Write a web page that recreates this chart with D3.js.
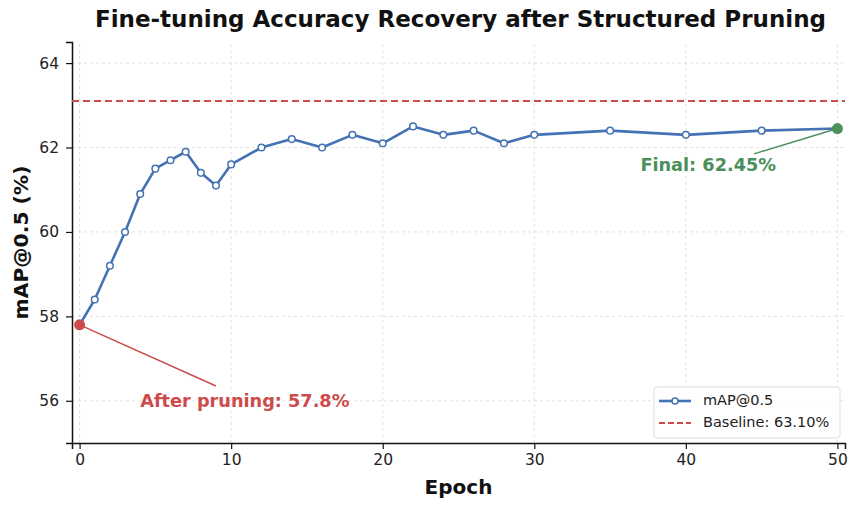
<!DOCTYPE html>
<html>
<head>
<meta charset="utf-8">
<script src="https://cdn.jsdelivr.net/npm/d3@7"></script>
<style>
  body { margin: 0; background: #fff; }
  svg { font-family: "DejaVu Sans", sans-serif; }
</style>
</head>
<body>
<div id="chart"></div>
<script>
const width = 858,
      height = 508;

const epochs = [0, 1, 2, 3, 4, 5, 6, 7, 8, 9, 10, 12, 14, 16, 18, 20, 22, 24, 26, 28, 30, 35, 40, 45, 50];
const mapValues = [57.8, 58.4, 59.2, 60.0, 60.9, 61.5, 61.7, 61.9, 61.4, 61.1, 61.6, 62.0, 62.2, 62.0, 62.3, 62.1, 62.5, 62.3, 62.4, 62.1, 62.3, 62.4, 62.3, 62.4, 62.45];
const baseline = 63.10;
const xTicks = [0, 10, 20, 30, 40, 50];
const yTicks = [56, 58, 60, 62, 64];

const margin = {top: 42, right: 13, bottom: 65, left: 72};
const blue = "#4472b4", red = "#cc4b4c", green = "#4a8f5c";

const svg = d3.select("#chart").append("svg")
  .attr("width", width)
  .attr("height", height);

const x = d3.scaleLinear().domain([-0.5, 50.5]).range([margin.left, width - margin.right]);
const y = d3.scaleLinear().domain([55, 64.5]).range([height - margin.bottom, margin.top]);

// grid
svg.append("g").selectAll("line").data(xTicks).enter().append("line")
  .attr("x1", d => x(d)).attr("x2", d => x(d))
  .attr("y1", y(55)).attr("y2", y(64.5))
  .style("stroke", "#d9d9d9").style("stroke-width", 0.8).style("stroke-dasharray", "3,3");
svg.append("g").selectAll("line").data(yTicks).enter().append("line")
  .attr("x1", x(-0.5)).attr("x2", x(50.5))
  .attr("y1", d => y(d)).attr("y2", d => y(d))
  .style("stroke", "#d9d9d9").style("stroke-width", 0.8).style("stroke-dasharray", "3,3");

// axes
const xAxis = svg.append("g")
  .attr("transform", "translate(0," + y(55) + ")")
  .call(d3.axisBottom(x).tickValues(xTicks).tickSize(6).tickPadding(5));
const yAxis = svg.append("g")
  .attr("transform", "translate(" + x(-0.5) + ",0)")
  .call(d3.axisLeft(y).tickValues(yTicks).tickSize(6).tickPadding(7));
[xAxis, yAxis].forEach(a => {
  a.select(".domain").style("stroke", "#111").style("stroke-width", 1.5);
  a.selectAll(".tick line").style("stroke", "#111").style("stroke-width", 1.2);
  a.selectAll(".tick text").style("font-family", "DejaVu Sans").style("font-size", "15.5px").style("fill", "#222");
});

// baseline
svg.append("line")
  .attr("x1", x(-0.5)).attr("x2", x(50.5))
  .attr("y1", y(baseline)).attr("y2", y(baseline))
  .style("stroke", red).style("stroke-width", 2).style("stroke-dasharray", "7,4");

// line
const line = d3.line().x(d => x(d[0])).y(d => y(d[1]));
const pts = epochs.map((e, i) => [e, mapValues[i]]);
svg.append("path")
  .attr("d", line(pts))
  .style("fill", "none").style("stroke", blue).style("stroke-width", 2.6)
  .style("stroke-linejoin", "round");
svg.append("g").selectAll("circle").data(pts).enter().append("circle")
  .attr("cx", d => x(d[0])).attr("cy", d => y(d[1])).attr("r", 3.3)
  .style("fill", "#fff").style("stroke", blue).style("stroke-width", 1.5);

// annotations
const first = pts[0], last = pts[pts.length - 1];
svg.append("line")
  .attr("x1", x(first[0])).attr("y1", y(first[1]))
  .attr("x2", x(9)).attr("y2", y(56.35))
  .style("stroke", red).style("stroke-width", 1.5);
svg.append("line")
  .attr("x1", x(last[0])).attr("y1", y(last[1]))
  .attr("x2", x(44.5)).attr("y2", y(61.85))
  .style("stroke", green).style("stroke-width", 1.5);
svg.append("circle").attr("cx", x(first[0])).attr("cy", y(first[1])).attr("r", 5.5).style("fill", red);
svg.append("circle").attr("cx", x(last[0])).attr("cy", y(last[1])).attr("r", 5.5).style("fill", green);
svg.append("text")
  .attr("x", x(4)).attr("y", y(55.98))
  .attr("dominant-baseline", "middle")
  .style("font-size", "17.7px").style("font-weight", "bold").style("fill", red)
  .text("After pruning: " + first[1] + "%");
svg.append("text")
  .attr("x", x(37)).attr("y", y(61.56))
  .attr("dominant-baseline", "middle")
  .style("font-size", "17.7px").style("font-weight", "bold").style("fill", green)
  .text("Final: " + last[1].toFixed(2) + "%");

// title and labels
svg.append("text")
  .attr("x", (margin.left + width - margin.right) / 2 + 2).attr("y", 27)
  .attr("text-anchor", "middle")
  .style("font-size", "23px").style("font-weight", "bold").style("fill", "#111")
  .text("Fine-tuning Accuracy Recovery after Structured Pruning");
svg.append("text")
  .attr("x", x(25)).attr("y", 494)
  .attr("text-anchor", "middle")
  .style("font-size", "20px").style("font-weight", "bold").style("fill", "#111")
  .text("Epoch");
svg.append("text")
  .attr("transform", "translate(28," + y(59.75) + ") rotate(-90)")
  .attr("text-anchor", "middle")
  .style("font-size", "20.3px").style("font-weight", "bold").style("fill", "#111")
  .text("mAP@0.5 (%)");

// legend
const lg = svg.append("g").attr("transform", "translate(654,387)");
lg.append("rect").attr("width", 186).attr("height", 51).attr("rx", 3)
  .style("fill", "#fff").style("fill-opacity", 0.85).style("stroke", "#ddd");
lg.append("line").attr("x1", 5).attr("x2", 37).attr("y1", 14).attr("y2", 14)
  .style("stroke", blue).style("stroke-width", 2.6);
lg.append("circle").attr("cx", 21).attr("cy", 14).attr("r", 3)
  .style("fill", "#fff").style("stroke", blue).style("stroke-width", 1.5);
lg.append("text").attr("x", 49).attr("y", 14).attr("dominant-baseline", "middle")
  .style("font-size", "14.5px").style("fill", "#222").text("mAP@0.5");
lg.append("line").attr("x1", 5).attr("x2", 37).attr("y1", 36).attr("y2", 36)
  .style("stroke", red).style("stroke-width", 2).style("stroke-dasharray", "6,3");
lg.append("text").attr("x", 49).attr("y", 36).attr("dominant-baseline", "middle")
  .style("font-size", "14.5px").style("fill", "#222").text("Baseline: " + baseline.toFixed(2) + "%");
</script>
</body>
</html>
